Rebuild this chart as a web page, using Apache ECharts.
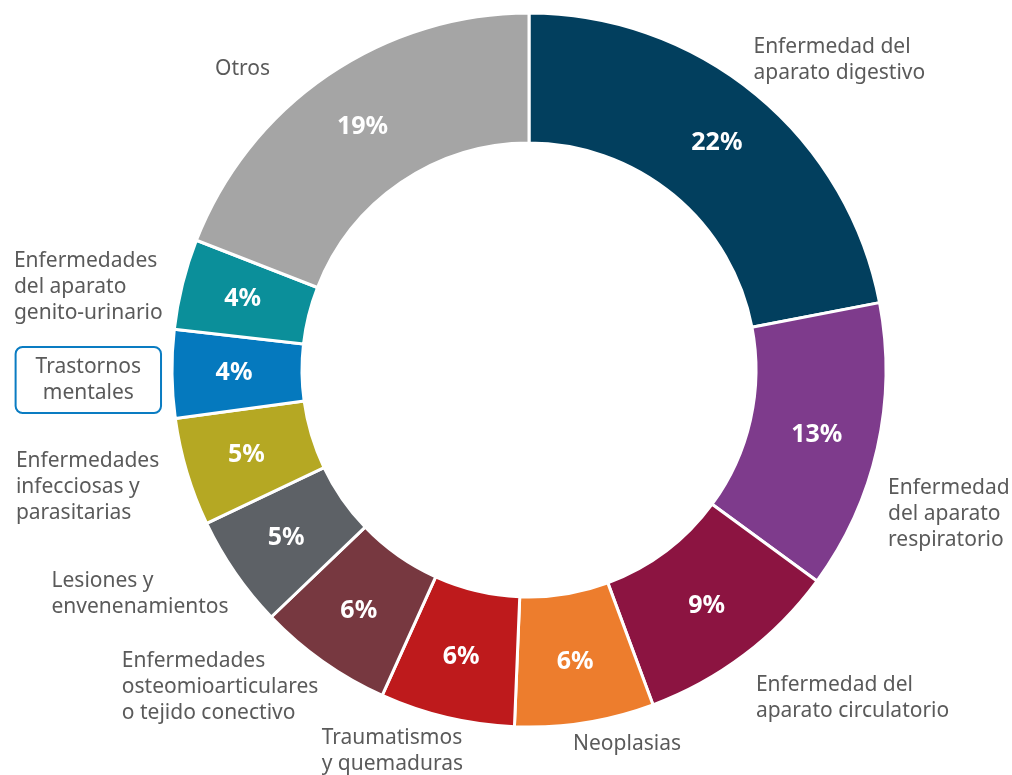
<!DOCTYPE html>
<html>
<head>
<meta charset="utf-8">
<script src="https://cdn.jsdelivr.net/npm/echarts@6/dist/echarts.min.js"></script>
<style>
  html, body { margin: 0; padding: 0; background: #fff; }
  #chart { width: 1012px; height: 775px; }
</style>
</head>
<body>
<div id="chart"></div>
<script>
// datos: causas de hospitalización (%)
var categories = [
  'Enfermedad del\naparato digestivo',
  'Enfermedad\ndel aparato\nrespiratorio',
  'Enfermedad del\naparato circulatorio',
  'Neoplasias',
  'Traumatismos\ny quemaduras',
  'Enfermedades\nosteomioarticulares\no tejido conectivo',
  'Lesiones y\nenvenenamientos',
  'Enfermedades\ninfecciosas y\nparasitarias',
  'Trastornos\nmentales',
  'Enfermedades\ndel aparato\ngenito-urinario',
  'Otros'
]
var values = [22.0, 13.1, 9.3, 6.3, 6.1, 6.1, 5.1, 4.9, 4.0, 4.1, 19.1]
var colors = ['#023f5e', '#7e3b8c', '#8c1441', '#ed7d2d', '#be1a1c', '#773840',
  '#5d6166', '#b5a823', '#0579be', '#0b8f9a', '#a5a5a5']
// pequeños ajustes de posición de los nombres [dx, dy]
var labelShift = [[-13, -29], [-2, 64], [2, 37], [-18, 14], [23, 26], [5, 19],
  [5, 17], [-15, 13], [2, 6], [-7, 5], [-48, 0]]
var boxedIndex = 8

var chart = echarts.init(document.getElementById('chart'))

var option = {
  backgroundColor: '#fff',
  animation: false,
  series: [
    {
      type: 'pie',
      center: [529, 370],
      radius: [227, 357],
      startAngle: 90,
      clockwise: true,
      avoidLabelOverlap: false,
      itemStyle: { borderColor: '#fff', borderWidth: 3 },
      label: {
        position: 'inside',
        color: '#fff',
        fontFamily: 'Noto Sans',
        fontSize: 25,
        fontWeight: 'bold',
        formatter: function (p) { return Math.round(p.value) + '%' }
      },
      labelLine: { show: false },
      data: categories.map(function (name, i) {
        return { name: name, value: values[i], itemStyle: { color: colors[i] } }
      })
    },
    {
      // serie invisible solo para los nombres de afuera
      type: 'pie',
      center: [529, 370],
      radius: [227, 357],
      startAngle: 90,
      clockwise: true,
      silent: true,
      avoidLabelOverlap: false,
      itemStyle: { color: 'transparent' },
      label: {
        position: 'outside',
        formatter: '{l|{b}}',
        rich: {
          l: { fontFamily: 'Noto Sans', fontSize: 21, color: '#5a5a5a', lineHeight: 26, align: 'left' },
          c: { fontFamily: 'Noto Sans', fontSize: 21, color: '#5a5a5a', lineHeight: 26, align: 'center' }
        }
      },
      labelLine: { show: false, length: 8, length2: 0 },
      labelLayout: function (p) {
        var s = labelShift[p.dataIndex]
        return { dx: s[0], dy: s[1] }
      },
      data: categories.map(function (name, i) {
        var item = { name: name, value: values[i] }
        if (i === boxedIndex) {
          //el recuadro de "Trastornos mentales"
          item.label = {
            formatter: '{c|{b}}',
            borderColor: '#0a7cc2',
            borderWidth: 2,
            borderRadius: 7,
            padding: [7, 20, 7, 20]
          }
        }
        return item
      })
    }
  ]
}

chart.setOption(option)
</script>
</body>
</html>
